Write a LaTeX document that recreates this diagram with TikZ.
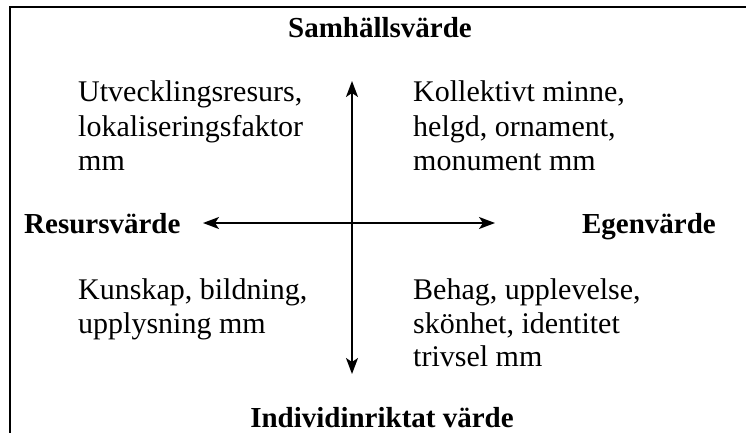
\documentclass[tikz,border=0pt]{standalone}
\usepackage{fontspec}
\setmainfont{Liberation Serif}
\usetikzlibrary{arrows.meta}
\tikzset{
  body/.style={anchor=base west, inner sep=0pt, font=\fontsize{30}{34}\selectfont},
  head/.style={inner sep=0pt, font=\fontsize{29}{34}\selectfont\bfseries},
  axis/.style={line width=1.6pt, {Stealth[length=16pt,width=12pt,inset=4pt]}-{Stealth[length=16pt,width=12pt,inset=4pt]}},
  frame/.style={line width=2.5pt}
}
\begin{document}
\begin{tikzpicture}[x=1pt,y=-1pt]
\useasboundingbox (0,0) rectangle (746,433);
\draw[frame] (747,7) -- (10,7) -- (10,434);
% headings
\node[head, anchor=base] (samh) at (380,38) {Samhällsvärde};
\node[head, anchor=base] (indiv) at (382,427) {Individinriktat värde};
\node[head, anchor=base west] (resurs) at (24,233) {Resursvärde};
\node[head, anchor=base east] (egen) at (716,233) {Egenvärde};
% axes
\coordinate (top) at (352,81);
\coordinate (bot) at (352,374);
\coordinate (lft) at (203,223);
\coordinate (rgt) at (495,223);
\draw[axis] (top) -- (bot);
\draw[axis] (lft) -- (rgt);
% quadrant texts
\node[body] (tl1) at (78,102) {Utvecklingsresurs,};
\node[body] (tl2) at (78,136) {lokaliseringsfaktor};
\node[body] (tl3) at (78,170) {mm};
\node[body] (tr1) at (413,102) {Kollektivt minne,};
\node[body] (tr2) at (413,136) {helgd, ornament,};
\node[body] (tr3) at (413,170) {monument mm};
\node[body] (bl1) at (78,299) {Kunskap, bildning,};
\node[body] (bl2) at (78,333) {upplysning mm};
\node[body] (br1) at (413,299) {Behag, upplevelse,};
\node[body] (br2) at (413,333) {skönhet, identitet};
\node[body] (br3) at (413,366) {trivsel mm};
\end{tikzpicture}
\end{document}
